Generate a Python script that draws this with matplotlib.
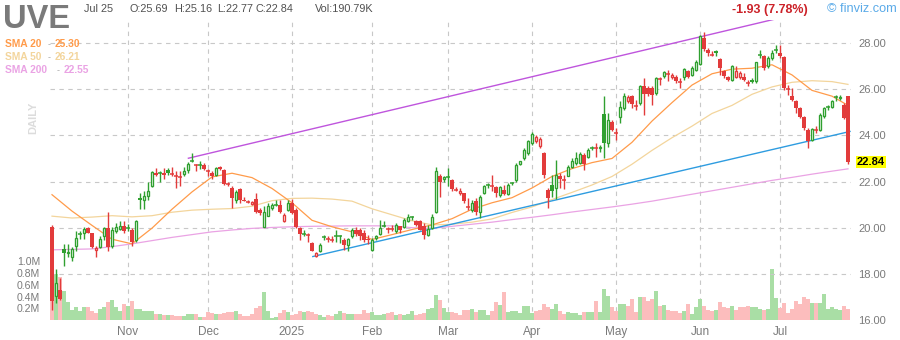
import matplotlib
matplotlib.use("Agg")
import matplotlib.pyplot as plt

plt.rcParams['font.family'] = ['Liberation Sans', 'DejaVu Sans']

# ---------------- data ----------------
ticker = "UVE"
last_date = "Jul 25"
header_open, header_high, header_low, header_close = 25.69, 25.16, 22.77, 22.84
header_volume = "190.79K"
change_text = "-1.93 (7.78%)"

opens = [20.01, 17.05, 17.31, 19.07, 18.90, 18.72, 19.19, 19.70, 19.76, 19.98,
         19.76, 19.04, 19.16, 19.62, 19.98, 19.19, 19.84, 19.94, 20.08, 19.95,
         19.88, 19.47, 21.28, 21.21, 21.38, 21.79, 22.38, 22.34, 22.38, 22.51,
         22.34, 22.24, 22.22, 22.34, 22.48, 22.85, 22.73, 22.72, 22.73, 22.47,
         22.36, 22.29, 22.62, 22.51, 21.90, 21.71, 21.18, 21.67, 21.20, 21.15,
         21.04, 21.24, 20.75, 20.05, 20.52, 20.85, 20.98, 20.99, 20.27, 20.78,
         21.06, 20.75, 19.98, 19.72, 19.71, 19.33, 18.78, 18.97, 19.57, 19.52,
         19.50, 19.60, 19.60, 19.47, 19.26, 19.62, 19.91, 19.88, 19.79, 19.50,
         19.04, 19.55, 19.73, 20.06, 19.96, 19.95, 19.84, 20.08, 20.02, 20.27,
         20.44, 20.31, 20.27, 20.08, 19.69, 19.98, 20.70, 22.25, 22.10, 22.19,
         22.07, 21.67, 21.52, 21.50, 20.92, 20.77, 21.15, 20.70, 21.50, 21.81,
         21.81, 21.76, 21.42, 21.64, 21.47, 21.91, 22.07, 22.77, 23.01, 23.23,
         23.66, 23.74, 23.52, 23.23, 21.64, 21.86, 21.71, 22.25, 22.10, 22.25,
         22.65, 22.80, 22.80, 23.16, 23.08, 23.43, 23.46, 23.44, 24.93, 23.66,
         24.60, 24.13, 24.79, 25.18, 25.50, 25.72, 25.30, 25.40, 26.12, 26.05,
         26.05, 25.83, 26.46, 26.58, 26.69, 26.55, 26.52, 26.35, 26.55, 26.81,
         26.63, 26.84, 27.10, 28.22, 27.71, 27.53, 27.64, 27.30, 26.77, 26.52,
         26.41, 26.55, 26.55, 26.52, 26.31, 26.41, 26.34, 27.47, 27.45, 26.99,
         27.35, 27.69, 27.56, 27.39, 26.05, 25.72, 25.47, 25.18, 24.79, 24.24,
         23.78, 24.26, 24.24, 24.82, 25.20, 25.22, 25.64, 25.62, 25.30, 25.69]
highs = [20.10, 18.20, 17.84, 19.30, 19.30, 19.16, 19.84, 19.84, 20.02, 20.02,
         19.79, 19.21, 19.62, 20.05, 20.66, 20.02, 20.20, 20.27, 20.31, 20.17,
         19.98, 20.34, 21.52, 21.57, 22.00, 22.44, 22.58, 22.44, 22.58, 22.58,
         22.65, 22.44, 22.44, 22.65, 22.83, 23.23, 22.77, 22.91, 22.80, 22.54,
         22.47, 22.62, 22.68, 22.54, 21.96, 21.79, 21.64, 21.71, 21.35, 21.21,
         21.14, 21.50, 20.85, 20.92, 21.06, 21.06, 21.18, 21.18, 20.63, 21.21,
         21.24, 20.85, 20.02, 19.91, 19.76, 19.40, 18.93, 19.33, 19.69, 19.62,
         19.62, 19.91, 19.69, 19.55, 19.55, 19.98, 20.02, 19.98, 19.91, 19.69,
         19.55, 19.69, 20.34, 20.31, 20.05, 20.12, 20.20, 20.08, 20.41, 20.60,
         20.52, 20.34, 20.34, 20.20, 20.12, 20.60, 22.65, 22.33, 22.25, 22.58,
         22.10, 21.76, 21.71, 21.52, 21.28, 21.21, 21.28, 21.42, 21.86, 21.93,
         22.29, 21.81, 21.81, 21.86, 21.93, 22.00, 22.80, 22.91, 23.45, 23.81,
         24.13, 24.02, 23.95, 23.30, 21.71, 22.29, 22.94, 22.36, 22.29, 22.72,
         23.01, 23.30, 23.30, 23.23, 23.45, 23.52, 23.66, 23.60, 25.69, 24.96,
         24.67, 24.31, 25.47, 25.83, 25.76, 25.76, 25.54, 26.19, 26.48, 26.12,
         26.12, 26.55, 26.55, 26.77, 26.84, 26.70, 26.63, 26.48, 26.91, 26.84,
         26.99, 27.28, 28.36, 28.46, 27.78, 27.64, 27.68, 27.35, 26.84, 26.58,
         27.06, 26.99, 26.77, 26.70, 26.41, 26.48, 27.20, 27.71, 27.49, 27.42,
         27.68, 27.93, 27.93, 27.42, 26.19, 26.05, 25.54, 25.22, 24.82, 24.31,
         24.31, 24.39, 24.96, 25.25, 25.32, 25.54, 25.76, 25.76, 25.40, 25.16]
lows = [16.44, 16.73, 16.87, 18.35, 18.72, 18.54, 18.97, 19.53, 19.53, 19.76,
        19.11, 18.75, 19.11, 19.47, 18.97, 19.11, 19.76, 19.88, 19.79, 19.84,
        19.21, 19.40, 20.80, 20.80, 21.21, 21.76, 22.22, 22.00, 22.10, 22.29,
        22.22, 21.71, 21.79, 22.22, 22.39, 22.83, 22.44, 22.54, 22.48, 22.22,
        22.10, 22.22, 22.48, 21.86, 21.79, 20.85, 21.09, 21.06, 21.14, 21.06,
        20.99, 20.63, 20.56, 20.02, 20.49, 20.78, 20.92, 20.63, 20.23, 20.71,
        20.60, 19.98, 19.47, 19.62, 19.40, 18.97, 18.75, 18.93, 19.47, 19.40,
        19.40, 19.40, 19.33, 19.04, 18.97, 19.55, 19.62, 19.47, 19.40, 19.30,
        19.01, 19.47, 19.69, 20.02, 19.76, 19.84, 19.79, 19.76, 19.98, 20.23,
        20.34, 20.08, 19.88, 19.50, 19.62, 19.95, 20.63, 21.35, 22.00, 21.81,
        21.61, 21.57, 21.42, 21.06, 20.77, 20.70, 20.56, 20.41, 21.47, 21.71,
        21.57, 21.35, 21.35, 21.42, 21.42, 21.86, 22.00, 22.72, 22.94, 23.16,
        23.59, 23.66, 23.45, 22.15, 20.84, 21.35, 21.24, 21.71, 21.67, 22.22,
        22.58, 22.72, 22.77, 22.48, 23.01, 23.37, 23.06, 23.30, 23.00, 23.50,
        24.17, 23.81, 24.53, 25.11, 25.40, 25.18, 25.11, 25.32, 24.89, 25.70,
        25.32, 25.76, 26.19, 26.48, 26.34, 26.44, 26.26, 26.05, 26.41, 26.48,
        26.58, 26.77, 27.06, 27.64, 27.42, 27.42, 27.45, 26.63, 26.48, 26.34,
        26.34, 26.48, 26.44, 26.34, 26.12, 26.26, 26.26, 27.35, 26.84, 26.91,
        27.28, 27.56, 27.35, 25.98, 25.76, 25.47, 24.96, 24.75, 24.24, 23.45,
        23.74, 24.10, 24.17, 24.75, 25.11, 25.18, 25.47, 25.55, 24.70, 22.77]
closes = [16.83, 17.60, 16.90, 18.90, 18.95, 19.07, 19.55, 19.73, 19.94, 19.79,
          19.16, 19.12, 19.50, 19.98, 19.16, 19.88, 20.02, 20.08, 19.84, 19.98,
          19.40, 20.27, 21.18, 21.38, 21.61, 22.41, 22.28, 22.36, 22.28, 22.36,
          22.33, 22.22, 22.20, 22.47, 22.77, 22.87, 22.71, 22.73, 22.54, 22.44,
          22.22, 22.58, 22.54, 21.90, 21.89, 21.28, 21.53, 21.18, 21.16, 21.12,
          21.10, 20.66, 20.63, 20.66, 20.92, 20.99, 21.00, 20.66, 20.56, 21.09,
          20.63, 20.02, 19.73, 19.74, 19.69, 19.01, 18.90, 19.26, 19.59, 19.50,
          19.48, 19.62, 19.63, 19.26, 19.50, 19.91, 19.73, 19.62, 19.47, 19.45,
          19.47, 19.62, 19.98, 20.08, 19.94, 19.93, 20.12, 19.88, 20.34, 20.46,
          20.47, 20.12, 19.91, 19.69, 19.94, 20.48, 22.44, 21.96, 22.19, 22.20,
          21.67, 21.65, 21.61, 21.15, 20.89, 21.06, 20.70, 21.35, 21.81, 21.83,
          21.79, 21.52, 21.76, 21.47, 21.86, 21.93, 22.72, 22.87, 23.37, 23.74,
          24.07, 23.92, 23.84, 22.29, 21.28, 21.57, 22.29, 22.10, 22.08, 22.65,
          22.87, 23.01, 23.20, 22.77, 23.37, 23.45, 23.44, 23.50, 23.66, 24.67,
          24.24, 24.10, 25.22, 25.69, 25.66, 25.37, 25.28, 26.12, 25.80, 25.78,
          25.75, 26.48, 26.44, 26.73, 26.67, 26.63, 26.34, 26.33, 26.87, 26.52,
          26.91, 27.16, 28.32, 27.74, 27.56, 27.50, 27.55, 26.91, 26.58, 26.38,
          27.02, 26.77, 26.70, 26.38, 26.29, 26.31, 27.16, 27.49, 26.91, 27.35,
          27.59, 27.71, 27.42, 26.05, 26.02, 25.54, 25.18, 24.79, 24.31, 23.74,
          24.27, 24.24, 24.89, 25.18, 25.22, 25.47, 25.66, 25.68, 24.77, 22.84]
volumes_m = [0.90, 0.78, 0.73, 0.50, 0.30, 0.17, 0.22, 0.16, 0.22, 0.22,
             0.16, 0.125, 0.18, 0.22, 0.31, 0.34, 0.22, 0.15, 0.27, 0.24,
             0.32, 0.19, 0.19, 0.15, 0.15, 0.15, 0.10, 0.10, 0.085, 0.085,
             0.085, 0.07, 0.07, 0.075, 0.10, 0.10, 0.10, 0.055, 0.055, 0.14,
             0.125, 0.10, 0.10, 0.125, 0.14, 0.14, 0.15, 0.10, 0.07, 0.07,
             0.10, 0.20, 0.24, 0.48, 0.15, 0.04, 0.055, 0.125, 0.17, 0.14,
             0.085, 0.10, 0.15, 0.13, 0.15, 0.14, 0.10, 0.085, 0.055, 0.085,
             0.07, 0.10, 0.15, 0.125, 0.10, 0.10, 0.11, 0.10, 0.17, 0.125,
             0.14, 0.085, 0.085, 0.10, 0.125, 0.14, 0.085, 0.10, 0.085, 0.11,
             0.15, 0.085, 0.10, 0.125, 0.19, 0.21, 0.43, 0.34, 0.21, 0.14,
             0.14, 0.125, 0.085, 0.17, 0.17, 0.19, 0.14, 0.17, 0.17, 0.085,
             0.15, 0.31, 0.26, 0.48, 0.14, 0.15, 0.15, 0.125, 0.24, 0.24,
             0.125, 0.15, 0.17, 0.27, 0.22, 0.19, 0.27, 0.15, 0.10, 0.14,
             0.125, 0.125, 0.085, 0.14, 0.14, 0.14, 0.32, 0.14, 0.53, 0.41,
             0.22, 0.15, 0.27, 0.27, 0.24, 0.36, 0.14, 0.39, 0.39, 0.32,
             0.36, 0.49, 0.24, 0.26, 0.17, 0.15, 0.15, 0.12, 0.15, 0.27,
             0.10, 0.22, 0.36, 0.24, 0.17, 0.15, 0.17, 0.31, 0.22, 0.20,
             0.24, 0.17, 0.22, 0.22, 0.24, 0.22, 0.22, 0.19, 0.17, 0.19,
             0.87, 0.37, 0.20, 0.29, 0.12, 0.19, 0.32, 0.27, 0.39, 0.36,
             0.29, 0.29, 0.29, 0.44, 0.19, 0.22, 0.19, 0.17, 0.24, 0.19079]

# moving averages, sampled every few sessions
sma_idx = [0, 5, 10, 15, 20, 25, 30, 35, 40, 45, 50, 55, 60, 65, 70, 75, 80,
           85, 90, 95, 100, 105, 110, 115, 120, 125, 130, 135, 140, 145, 150,
           155, 160, 165, 170, 175, 180, 185, 190, 195, 199]
sma20 = [21.43, 20.72, 20.10, 19.50, 19.30, 19.98, 20.80, 21.55, 22.20, 22.36,
         22.17, 21.70, 21.08, 20.32, 20.04, 19.82, 19.49, 19.70, 19.92, 20.12,
         20.39, 20.80, 21.08, 21.30, 21.72, 22.22, 22.56, 22.82, 23.00, 23.70,
         24.62, 25.42, 26.18, 26.67, 26.87, 26.91, 27.06, 26.62, 25.95, 25.70,
         25.30]
sma50 = [20.50, 20.42, 20.46, 20.52, 20.47, 20.52, 20.67, 20.76, 20.80, 20.83,
         20.93, 21.17, 21.27, 21.28, 21.24, 21.15, 20.82, 20.56, 20.30, 20.12,
         20.15, 20.24, 20.38, 20.66, 20.90, 21.22, 21.53, 21.85, 22.22, 22.75,
         23.35, 23.90, 24.40, 24.95, 25.30, 25.78, 26.10, 26.30, 26.37, 26.33,
         26.21]
sma200 = [19.04, 19.06, 19.08, 19.18, 19.30, 19.44, 19.58, 19.70, 19.82, 19.90,
          19.97, 20.01, 20.04, 20.06, 20.07, 20.08, 20.08, 20.08, 20.00, 19.97,
          20.06, 20.15, 20.24, 20.35, 20.45, 20.56, 20.68, 20.79, 20.90, 21.02,
          21.15, 21.30, 21.45, 21.60, 21.75, 21.90, 22.05, 22.18, 22.32, 22.45,
          22.55]
sma_last = {"SMA 20": 25.30, "SMA 50": 26.21, "SMA 200": 22.55}

# trend lines (session index, price)
upper_trend_x = [34.1, 199.5]
upper_trend_y = [23.01, 29.81]
lower_trend_x = [65.2, 199.5]
lower_trend_y = [18.75, 24.17]

month_idx = [19, 39, 60, 80, 99, 120, 141, 162, 182]
month_names = ["Nov", "Dec", "2025", "Feb", "Mar", "Apr", "May", "Jun", "Jul"]
price_ticks = [16, 18, 20, 22, 24, 26, 28]
vol_ticks = [0.2, 0.4, 0.6, 0.8, 1.0]

# ---------------- style ----------------
GREEN = '#30a030'
RED = '#e23b3b'
VOL_GREEN = '#a9dea5'
VOL_RED = '#fcbdbd'
GRID = '#c8c8c8'
C_SMA20 = '#ff9b4a'
C_SMA50 = '#f3d59c'
C_SMA200 = '#eaa3e4'
C_UP = '#bf55dd'
C_DOWN = '#2e9ce0'
TXT = '#7a7a7a'

W, H = 900, 340
fig = plt.figure(figsize=(W / 100, H / 100), dpi=100)


def px_rect(l, t, r, b):
    return [l / W, 1 - b / H, (r - l) / W, (b - t) / H]


rect = px_rect(50, 20, 851, 320)
axv = fig.add_axes(rect)
ax = fig.add_axes(rect, sharex=axv)
ax.patch.set_visible(False)

n = len(closes)
idx = list(range(n))
# a session is "up" when it closes above the previous close
up = [closes[0] >= opens[0]] + [closes[i] >= closes[i - 1] for i in range(1, n)]

# volume
axv.bar(idx, volumes_m, width=1.0, color=[VOL_GREEN if u else VOL_RED for u in up],
        linewidth=0, zorder=2)
axv.set_ylim(0, 300 / 58.7)
axv.set_yticks(vol_ticks)
axv.set_yticklabels([f"{v:.1f}M" for v in vol_ticks])
axv.tick_params(axis='y', length=0, pad=7, labelsize=7.6, labelcolor=TXT)
axv.tick_params(axis='x', bottom=False, labelbottom=False)
for m in month_idx:
    axv.axvline(m, color=GRID, lw=0.8, ls=(0, (4, 4)), zorder=1)

# price grid
for p in price_ticks[1:]:
    ax.axhline(p, color=GRID, lw=0.8, ls=(0, (4, 4)), zorder=0.5)

# moving averages and trend lines
ax.plot(sma_idx, sma200, color=C_SMA200, lw=0.9, zorder=1)
ax.plot(sma_idx, sma50, color=C_SMA50, lw=0.9, zorder=1)
ax.plot(sma_idx, sma20, color=C_SMA20, lw=0.9, zorder=1)
ax.plot(upper_trend_x, upper_trend_y, color=C_UP, lw=1.0, zorder=2)
ax.plot(lower_trend_x, lower_trend_y, color=C_DOWN, lw=1.0, zorder=2)

# candles: hollow when close > open, filled otherwise
for i in idx:
    o, h, l, c = opens[i], highs[i], lows[i], closes[i]
    col = GREEN if up[i] else RED
    top, bot = max(o, c), min(o, c)
    h = max(h, top)
    ax.vlines(i, l, h, color=col, lw=1.0, zorder=3)
    if top - bot < 0.035:
        ax.hlines(c, i - 0.4, i + 0.4, color=col, lw=1.1, zorder=4)
    elif c > o:
        ax.bar(i, top - bot, bottom=bot, width=0.56, facecolor='white',
               edgecolor=col, linewidth=0.95, zorder=4)
    else:
        ax.bar(i, top - bot, bottom=bot, width=0.8, color=col,
               linewidth=0, zorder=4)

ax.set_xlim(-0.5, 199.75)
ax.set_ylim(16, 29.0)
ax.yaxis.tick_right()
ax.set_yticks(price_ticks)
ax.set_yticklabels([f"{p:.2f}" for p in price_ticks])
ax.tick_params(axis='y', length=0, pad=5, labelsize=8, labelcolor=TXT)
ax.set_xticks(month_idx)
ax.set_xticklabels(month_names)
ax.tick_params(axis='x', length=0, pad=4, labelsize=8.5, labelcolor=TXT)
for a in (ax, axv):
    for s in a.spines.values():
        s.set_visible(False)

# last price marker
ax.text(1.0075, header_close, f"{header_close:.2f}", transform=ax.get_yaxis_transform(),
        ha='left', va='center', fontsize=8, fontweight='bold', color='black',
        bbox=dict(boxstyle='square,pad=0.12', facecolor='#ffff00', edgecolor='none'))

# ---------------- header ----------------
def ftext(x, y, s, **kw):
    fig.text(x / W, 1 - y / H, s, **kw)


ftext(3, 28, ticker, fontsize=23.5, fontweight='bold', color='#7a7a7a', va='baseline')
ftext(84, 12.5, last_date, fontsize=7.8, color='#505050', va='baseline')
ftext(130, 12.5, f"O:{header_open:.2f}", fontsize=7.8, color='#505050', va='baseline')
ftext(174, 12.5, f"H:{header_high:.2f}", fontsize=7.8, color='#505050', va='baseline')
ftext(217, 12.5, f"L:{header_low:.2f}", fontsize=7.8, color='#505050', va='baseline')
ftext(256, 12.5, f"C:{header_close:.2f}", fontsize=7.8, color='#505050', va='baseline')
ftext(315, 12.5, f"Vol:{header_volume}", fontsize=7.8, color='#505050', va='baseline')
ftext(808, 13, change_text, fontsize=9, fontweight='bold', color='#cc2229',
      va='baseline', ha='right')
ftext(897, 12, "\u00a9 finviz.com", fontsize=9.2, color='#5aaae8', va='baseline', ha='right')

legend_rows = [("SMA 20", C_SMA20, 47, 55), ("SMA 50", C_SMA50, 60, 55),
               ("SMA 200", C_SMA200, 73, 64)]
for name, col, yb, xv in legend_rows:
    ftext(5, yb, name, fontsize=7.4, fontweight='bold', color=col, va='baseline')
    ftext(xv - 7, yb, "-", fontsize=6.5, color='#aaaaaa', va='baseline')
    ftext(xv, yb, f"{sma_last[name]:.2f}", fontsize=7.4, fontweight='bold', color=col,
          va='baseline')

ftext(33, 118, "DAILY", fontsize=8, fontweight='bold', color='#dcdcdc',
      rotation=90, ha='center', va='center')

fig.savefig("out.png", dpi=100)
